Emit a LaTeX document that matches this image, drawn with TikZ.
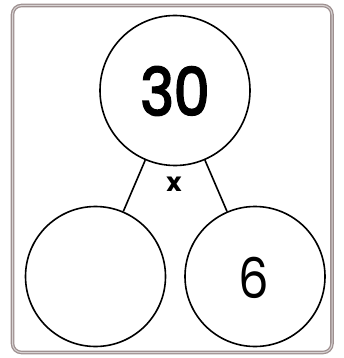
\documentclass[tikz,border=0pt]{standalone}
\usepackage{fontspec}
\setmainfont{Poppins}
\newfontfamily\numfont[FakeStretch=0.86]{Poppins}
\definecolor{framegray}{HTML}{9E9090}
\begin{document}
\begin{tikzpicture}
  [x=1pt,y=-1pt,every node/.style={circle,draw=black,line width=1.6pt,inner sep=0pt}]
  \useasboundingbox (0,0) rectangle (344,358);
  \draw[framegray,line width=1.3pt,double=framegray!40,double distance=1pt,rounded corners=9pt]
    (12.5,5.5) rectangle (332,352.5);
  \node[minimum size=150pt] (n1) at (175,90.5) {};
  \node[minimum size=140pt] (n2) at (95.5,276.5) {};
  \node[minimum size=140pt] (n3) at (255,276.5) {};
  \node[draw=none,font=\numfont\fontsize{66}{66}\selectfont\addfontfeatures{FakeBold=3}] (t1) at (175,91) {30};
  \node[draw=none,font=\numfont\fontsize{56}{56}\selectfont] (t3) at (254,278) {6};
  \node[draw=none,font=\fontsize{26}{26}\selectfont\bfseries] (op) at (174,184) {x};

  \foreach \from/\to in {n1/n2, n1/n3}
  \draw[line width=1.6pt] (\from) -- (\to);
\end{tikzpicture}
\end{document}
